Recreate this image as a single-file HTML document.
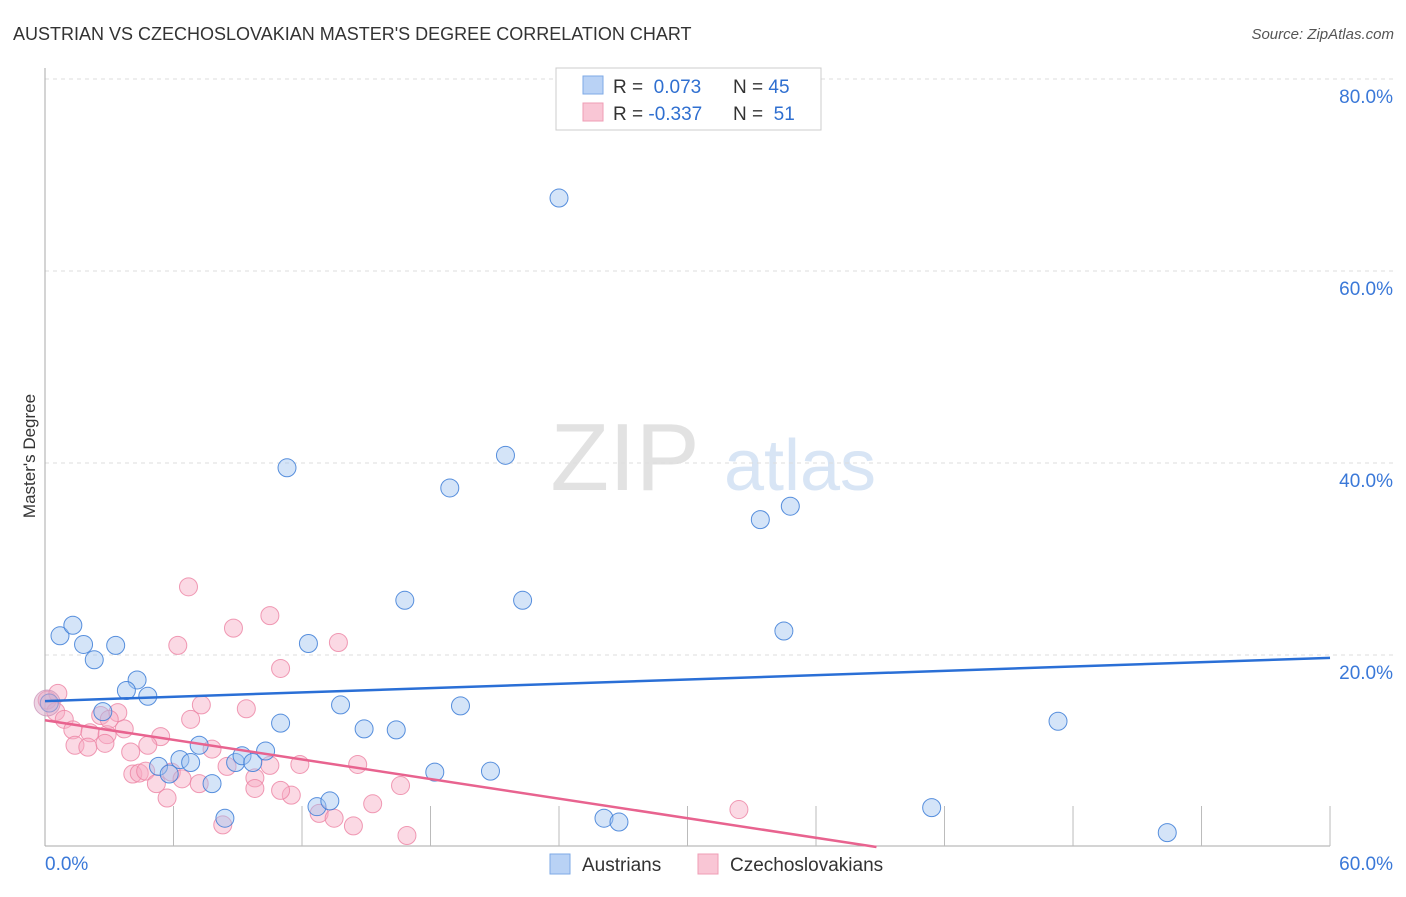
<!DOCTYPE html>
<html><head><meta charset="utf-8"><style>
body{margin:0;background:#fff;font-family:"Liberation Sans",sans-serif}
svg text{font-family:"Liberation Sans",sans-serif}
</style></head><body>
<svg id="c" width="1406" height="892">
<text x="13" y="40" font-size="18" fill="#333">AUSTRIAN VS CZECHOSLOVAKIAN MASTER'S DEGREE CORRELATION CHART</text>
<text x="1394" y="39" font-size="15" fill="#555" font-style="italic" text-anchor="end">Source: ZipAtlas.com</text>
<text x="35" y="456" font-size="17" fill="#333" transform="rotate(-90 35 456)" text-anchor="middle">Master's Degree</text>
<g><text x="625" y="490" font-size="96" fill="#e2e2e2" font-family="Liberation Serif" text-anchor="middle">ZIP</text><text x="800" y="490" font-size="72" fill="#d8e5f5" text-anchor="middle">atlas</text></g>
<g id="grid"></g><g id="pts"></g><g id="lines"></g>
<g>
<rect x="556" y="68" width="265" height="62" fill="#fff" stroke="#ccc"/>
<rect x="583" y="76" width="20" height="18" fill="#b9d2f5" stroke="#7ea9e6"/>
<rect x="583" y="103" width="20" height="18" fill="#f9c6d5" stroke="#ef9db5"/>
<text x="613" y="93" font-size="19" fill="#333">R = <tspan fill="#2f6fd0">&#160;0.073</tspan><tspan x="733">N = </tspan><tspan fill="#2f6fd0">45</tspan></text>
<text x="613" y="120" font-size="19" fill="#333">R = <tspan fill="#2f6fd0">-0.337</tspan><tspan x="733">N = </tspan><tspan fill="#2f6fd0">&#160;51</tspan></text>
</g>
<g>
<rect x="550" y="854" width="20" height="20" fill="#b9d2f5" stroke="#7ea9e6"/><text x="582" y="871" font-size="19" fill="#333">Austrians</text>
<rect x="698" y="854" width="20" height="20" fill="#f9c6d5" stroke="#ef9db5"/><text x="730" y="871" font-size="19" fill="#333">Czechoslovakians</text>
</g>
</svg>
<script>
const xTicks=[0,60];
const yTicks=[20,40,60,80];
const austX=[24.0,11.3,21.5,18.9,33.4,34.8,16.8,22.3,34.5,47.3,41.4,52.4,0.7,1.3,1.8,2.3,3.3,4.3,3.8,4.8,0.2,2.7,12.3,13.8,14.9,16.4,19.4,11.0,7.2,6.3,6.8,5.3,5.8,7.8,8.9,9.2,9.7,10.3,18.2,20.8,8.4,12.7,13.3,26.1,26.8];
const austY=[67.6,39.5,40.8,37.4,34.1,35.5,25.7,25.7,22.5,13.1,4.1,1.5,22.0,23.1,21.1,19.5,21.0,17.4,16.3,15.7,15.0,14.1,21.2,14.8,12.3,12.2,14.7,12.9,10.6,9.1,8.8,8.4,7.6,6.6,8.8,9.5,8.8,10.0,7.8,7.9,3.0,4.2,4.8,3.0,2.6];
const czX=[6.7,10.5,8.8,6.2,13.7,11.0,0.1,0.5,0.9,2.6,3.4,1.3,2.1,2.9,3.7,1.4,2.0,2.8,6.8,7.3,9.4,5.4,4.8,4.0,7.8,8.5,10.5,11.9,14.6,4.1,4.4,4.7,5.9,6.4,5.2,7.2,9.8,9.8,11.5,16.6,12.8,13.5,15.3,5.7,14.4,8.3,16.9,32.4,0.6,3.0,11.0];
const czY=[27.1,24.1,22.8,21.0,21.3,18.6,15.3,14.1,13.3,13.7,14.0,12.2,11.9,11.7,12.3,10.6,10.4,10.8,13.3,14.8,14.4,11.5,10.6,9.9,10.2,8.4,8.5,8.6,8.6,7.6,7.7,7.9,7.8,7.1,6.6,6.6,7.2,6.1,5.4,6.4,3.5,3.0,4.5,5.1,2.2,2.3,1.2,3.9,16.0,13.3,5.9];
const trendA=[15.2,0.075];
const trendC=[13.2,-0.34];
const X=v=>45+v*21.417, Y=v=>847-v*9.6;
const NS='http://www.w3.org/2000/svg';
function mk(t,a,p){const e=document.createElementNS(NS,t);for(const k in a)e.setAttribute(k,a[k]);p.appendChild(e);return e;}
const g=document.getElementById('grid');
yTicks.forEach(t=>{const l=mk('line',{x1:45,x2:1393,y1:Y(t),y2:Y(t),stroke:'#ddd','stroke-dasharray':'4 4'},g);


const tx=mk('text',{x:1393,y:Y(t)+24,'font-size':19,fill:'#3a78d8','text-anchor':'end'},g);tx.textContent=t.toFixed(1)+'%';

});
const ax=mk('line',{x1:45,x2:45,y1:68,y2:846,stroke:'#aaa'},g);


const bx=mk('line',{x1:45,x2:1330,y1:846,y2:846,stroke:'#aaa'},g);


for(let i=1;i<=10;i++){const tk=mk('line',{x1:X(i*6),x2:X(i*6),y1:806,y2:846,stroke:'#bbb'},g);

}
xTicks.forEach((t,i)=>{const tx=mk('text',{x:i?1393:45,y:870,'font-size':19,fill:'#3a78d8','text-anchor':i?'end':'start'},g);tx.textContent=t.toFixed(1)+'%';

});
const p=document.getElementById('pts');
czX.forEach((v,i)=>{const c=mk('circle',{cx:X(v),cy:Y(czY[i]),r:9,fill:'rgba(246,170,195,0.45)',stroke:'rgba(236,130,162,0.8)','stroke-width':1},p);

});
austX.forEach((v,i)=>{const c=mk('circle',{cx:X(v),cy:Y(austY[i]),r:9,fill:'rgba(160,195,240,0.45)',stroke:'rgba(60,125,215,0.85)','stroke-width':1},p);

});
const big=mk('circle',{cx:X(0.1),cy:Y(15.0),r:13,fill:'rgba(220,170,200,0.5)',stroke:'rgba(200,140,180,0.7)'},p);


const L=document.getElementById('lines');
const la=mk('line',{x1:X(0),y1:Y(trendA[0]),x2:X(60),y2:Y(trendA[0]+60*trendA[1]),stroke:'#2a6fd6','stroke-width':2.5},L);


const xe=Math.min(60,-trendC[0]/trendC[1]);
const lc=mk('line',{x1:X(0),y1:Y(trendC[0]),x2:X(xe),y2:Y(trendC[0]+xe*trendC[1]),stroke:'#e8638f','stroke-width':2.5},L);


</script>
</body></html>
